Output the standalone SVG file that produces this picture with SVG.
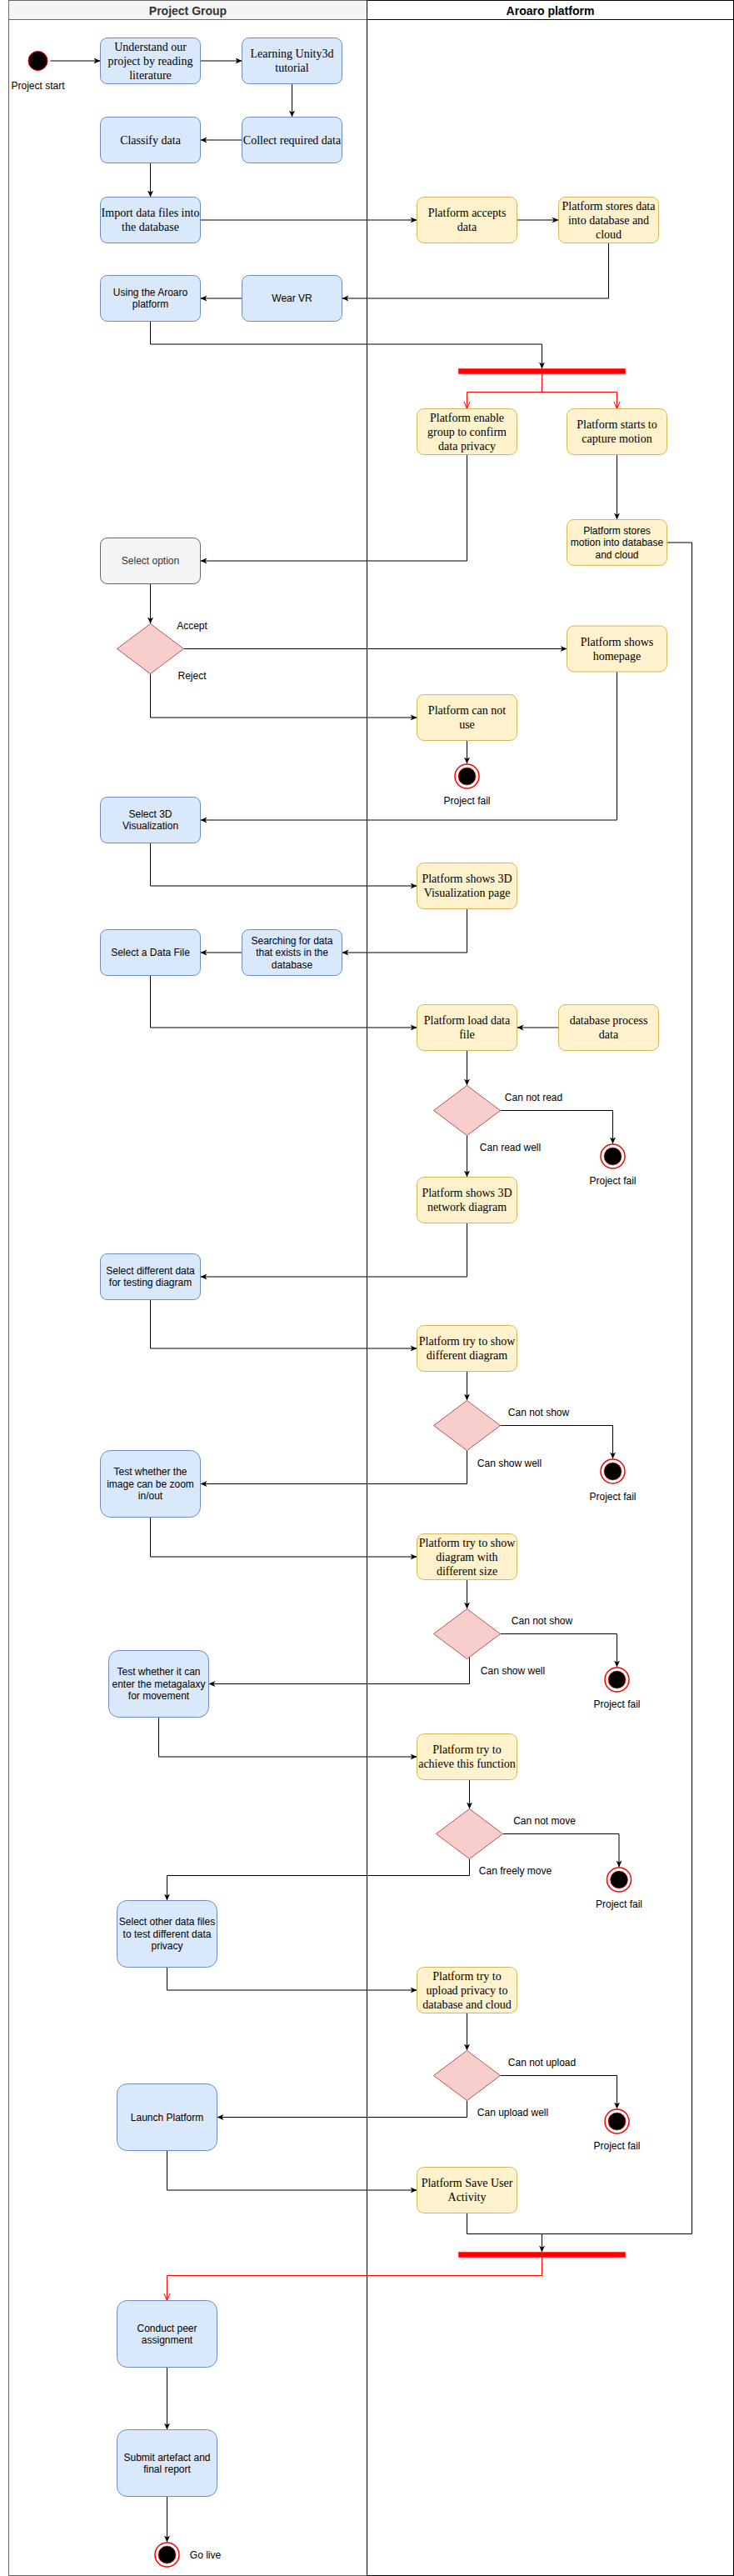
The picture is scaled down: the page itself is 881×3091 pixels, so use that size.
<svg xmlns="http://www.w3.org/2000/svg" width="881" height="3091" viewBox="0 0 881 3091">
<style>
.bl{fill:#dae8fc;stroke:#6c8ebf;stroke-width:1}
.ye{fill:#fff2cc;stroke:#d6b656;stroke-width:1}
.gr{fill:#f5f5f5;stroke:#666666;stroke-width:1}
.dm{fill:#f8cecc;stroke:#b85450;stroke-width:1}
.bar{fill:#ff0000;stroke:#ff0000;stroke-width:0.5}
.e{fill:none;stroke:#000000;stroke-width:1;marker-end:url(#arr)}
.en{fill:none;stroke:#000000;stroke-width:1}
.re{fill:none;stroke:#ff0000;stroke-width:1}
.ser{font-family:"Liberation Serif","Times New Roman",serif;font-size:14px;fill:#000;text-anchor:middle}
.san{font-family:"Liberation Sans",Arial,Helvetica,sans-serif;font-size:12px;fill:#000;text-anchor:middle}
.lab{font-family:"Liberation Sans",Arial,Helvetica,sans-serif;font-size:12px;fill:#000;text-anchor:middle}
.hd{font-family:"Liberation Sans",Arial,Helvetica,sans-serif;font-size:14px;font-weight:bold;text-anchor:middle}
.eo{fill:#ffffff;stroke:#ff0000;stroke-width:1.5}
.ei{fill:#000000;stroke:#ff0000;stroke-width:0.6}
</style>
<defs>
<marker id="arr" markerUnits="userSpaceOnUse" markerWidth="9" markerHeight="8" viewBox="0 0 9 8" refX="8" refY="4" orient="auto"><path d="M8,4 L0,0.5 L2.2,4 L0,7.5 Z" fill="#000"/></marker>
<marker id="open" markerUnits="userSpaceOnUse" markerWidth="10" markerHeight="10" viewBox="0 0 10 10" refX="9" refY="5" orient="auto"><path d="M0,1.2 L9,5 L0,8.8" fill="none" stroke="#ff0000" stroke-width="1"/></marker>
</defs>
<g transform="translate(0.5,0.5)">
<g id="pool">
<rect x="10" y="0" width="430" height="3090" fill="#ffffff" stroke="#666666"/>
<rect x="10" y="0" width="430" height="23" fill="#f5f5f5" stroke="#666666"/>
<text class="hd" x="225" y="17" fill="#333333">Project Group</text>
<rect x="440" y="0" width="440" height="3090" fill="none" stroke="#000000"/>
<line x1="440" y1="23" x2="880" y2="23" stroke="#000000"/>
<text class="hd" x="660" y="17" fill="#000000">Aroaro platform</text>
</g>
<g id="connectors">
<path class="e" d="M60,72.5 H120"/>
<path class="e" d="M240,72.5 H290"/>
<path class="e" d="M350,100 V140"/>
<path class="e" d="M290,167.5 H240"/>
<path class="e" d="M180,195 V236"/>
<path class="e" d="M240,263.5 H500"/>
<path class="e" d="M620,263.5 H670"/>
<path class="e" d="M730,291 V357.5 H410"/>
<path class="e" d="M290,357.5 H240"/>
<path class="e" d="M180,385 V412.5 H650 V442"/>
<path class="re" d="M650,448 V470 H560 V490" marker-end="url(#open)"/>
<path class="re" d="M650,470 H740 V490" marker-end="url(#open)"/>
<path class="e" d="M560,545 V672.5 H240"/>
<path class="e" d="M740,545 V623"/>
<path class="e" d="M180,700 V748"/>
<path class="e" d="M220,778 H680"/>
<path class="e" d="M180,808 V860.5 H500"/>
<path class="e" d="M560,888 V916"/>
<path class="e" d="M740,805.5 V983.5 H240"/>
<path class="e" d="M180,1011 V1062.5 H500"/>
<path class="e" d="M560,1090 V1142.5 H410"/>
<path class="e" d="M290,1142.5 H240"/>
<path class="e" d="M180,1170 V1232.5 H500"/>
<path class="e" d="M670,1232.5 H620"/>
<path class="e" d="M560,1260 V1302"/>
<path class="e" d="M600,1332 H735 V1372"/>
<path class="e" d="M560,1362 V1412"/>
<path class="e" d="M560,1467 V1531.5 H240"/>
<path class="e" d="M180,1559 V1617.5 H500"/>
<path class="e" d="M560,1645 V1680"/>
<path class="e" d="M600,1710 H735 V1750"/>
<path class="e" d="M560,1740 V1780 H240"/>
<path class="e" d="M180,1820 V1867.5 H500"/>
<path class="e" d="M560,1895 V1930"/>
<path class="e" d="M600,1960 H740 V2000"/>
<path class="e" d="M563,1987 V2020 H250"/>
<path class="e" d="M190,2060 V2107.5 H500"/>
<path class="e" d="M563,2135 V2170"/>
<path class="e" d="M603,2200 H742.5 V2240"/>
<path class="e" d="M563,2230 V2250 H200 V2280"/>
<path class="e" d="M200,2360 V2387.5 H500"/>
<path class="e" d="M560,2415 V2460"/>
<path class="e" d="M600,2490 H740 V2530"/>
<path class="e" d="M560,2520 V2540 H260"/>
<path class="e" d="M200,2580 V2627.5 H500"/>
<path class="e" d="M560,2655 V2680 H650 V2702"/>
<path class="en" d="M800,650.5 H830 V2680 H650"/>
<path class="re" d="M650,2708 V2730 H200 V2760" marker-end="url(#open)"/>
<path class="e" d="M200,2840 V2915"/>
<path class="e" d="M200,2995 V3050"/>
</g>
<g id="start"><circle cx="45" cy="72.5" r="11.5" fill="#000000" stroke="#ff0000"/><text class="lab" x="45" y="106.5">Project start</text></g>
<g id="n_understand"><rect class="bl" x="120" y="45" width="120" height="55" rx="8.25"/><text class="ser" x="180"><tspan x="180" y="60.4">Understand our</tspan><tspan x="180" y="77.2">project by reading</tspan><tspan x="180" y="94">literature</tspan></text></g>
<g id="n_learning"><rect class="bl" x="290" y="45" width="120" height="55" rx="8.25"/><text class="ser"><tspan x="350" y="68.8">Learning Unity3d</tspan><tspan x="350" y="85.6">tutorial</tspan></text></g>
<g id="n_collect"><rect class="bl" x="290" y="140" width="120" height="55" rx="8.25"/><text class="ser" x="350" y="172.2">Collect required data</text></g>
<g id="n_classify"><rect class="bl" x="120" y="140" width="120" height="55" rx="8.25"/><text class="ser" x="180" y="172.2">Classify data</text></g>
<g id="n_import"><rect class="bl" x="120" y="236" width="120" height="55" rx="8.25"/><text class="ser"><tspan x="180" y="259.8">Import data files into</tspan><tspan x="180" y="276.6">the database</tspan></text></g>
<g id="n_accepts"><rect class="ye" x="500" y="236" width="120" height="55" rx="8.25"/><text class="ser"><tspan x="560" y="259.8">Platform accepts</tspan><tspan x="560" y="276.6">data</tspan></text></g>
<g id="n_stores"><rect class="ye" x="670" y="236" width="120" height="55" rx="8.25"/><text class="ser"><tspan x="730" y="251.4">Platform stores data</tspan><tspan x="730" y="268.2">into database and</tspan><tspan x="730" y="285">cloud</tspan></text></g>
<g id="n_using"><rect class="bl" x="120" y="330" width="120" height="55" rx="8.25"/><text class="san"><tspan x="180" y="354.5">Using the Aroaro</tspan><tspan x="180" y="368.9">platform</tspan></text></g>
<g id="n_wearvr"><rect class="bl" x="290" y="330" width="120" height="55" rx="8.25"/><text class="san" x="350" y="361.7">Wear VR</text></g>
<g id="bar_fork"><rect class="bar" x="550" y="442" width="200" height="6"/></g>
<g id="n_enable"><rect class="ye" x="500" y="490" width="120" height="55" rx="8.25"/><text class="ser"><tspan x="560" y="505.4">Platform enable</tspan><tspan x="560" y="522.2">group to confirm</tspan><tspan x="560" y="539">data privacy</tspan></text></g>
<g id="n_capture"><rect class="ye" x="680" y="490" width="120" height="55" rx="8.25"/><text class="ser"><tspan x="740" y="513.8">Platform starts to</tspan><tspan x="740" y="530.6">capture motion</tspan></text></g>
<g id="n_storemotion"><rect class="ye" x="680" y="623" width="120" height="55" rx="8.25"/><text class="san"><tspan x="740" y="640.3">Platform stores</tspan><tspan x="740" y="654.7">motion into database</tspan><tspan x="740" y="669.1">and cloud</tspan></text></g>
<g id="n_selectopt"><rect class="gr" x="120" y="645" width="120" height="55" rx="8.25"/><text class="san" x="180" y="676.7" fill="#333333" style="fill:#333333">Select option</text></g>
<g id="d_option"><path class="dm" d="M180,748 L220,778 L180,808 L140,778 Z"/><text class="lab" x="230" y="754.5">Accept</text><text class="lab" x="230" y="814.2">Reject</text></g>
<g id="n_homepage"><rect class="ye" x="680" y="750.5" width="120" height="55" rx="8.25"/><text class="ser"><tspan x="740" y="774.3">Platform shows</tspan><tspan x="740" y="791.1">homepage</tspan></text></g>
<g id="n_cannotuse"><rect class="ye" x="500" y="833" width="120" height="55" rx="8.25"/><text class="ser"><tspan x="560" y="856.8">Platform can not</tspan><tspan x="560" y="873.6">use</tspan></text></g>
<g id="end1"><circle class="eo" cx="560" cy="931" r="14.5"/><circle class="ei" cx="560" cy="931" r="10.5"/><text class="lab" x="560" y="964.2">Project fail</text></g>
<g id="n_sel3d"><rect class="bl" x="120" y="956" width="120" height="55" rx="8.25"/><text class="san"><tspan x="180" y="980.5">Select 3D</tspan><tspan x="180" y="994.9">Visualization</tspan></text></g>
<g id="n_vis"><rect class="ye" x="500" y="1035" width="120" height="55" rx="8.25"/><text class="ser"><tspan x="560" y="1058.8">Platform shows 3D</tspan><tspan x="560" y="1075.6">Visualization page</tspan></text></g>
<g id="n_search"><rect class="bl" x="290" y="1115" width="120" height="55" rx="8.25"/><text class="san"><tspan x="350" y="1132.3">Searching for data</tspan><tspan x="350" y="1146.7">that exists in the</tspan><tspan x="350" y="1161.1">database</tspan></text></g>
<g id="n_selfile"><rect class="bl" x="120" y="1115" width="120" height="55" rx="8.25"/><text class="san" x="180" y="1146.7">Select a Data File</text></g>
<g id="n_load"><rect class="ye" x="500" y="1205" width="120" height="55" rx="8.25"/><text class="ser"><tspan x="560" y="1228.8">Platform load data</tspan><tspan x="560" y="1245.6">file</tspan></text></g>
<g id="n_dbproc"><rect class="ye" x="670" y="1205" width="120" height="55" rx="8.25"/><text class="ser"><tspan x="730" y="1228.8">database process</tspan><tspan x="730" y="1245.6">data</tspan></text></g>
<g id="d_read"><path class="dm" d="M560,1302 L600,1332 L560,1362 L520,1332 Z"/><text class="lab" x="640" y="1320.9">Can not read</text><text class="lab" x="612" y="1380.9">Can read well</text></g>
<g id="end2"><circle class="eo" cx="735" cy="1387" r="14.5"/><circle class="ei" cx="735" cy="1387" r="10.5"/><text class="lab" x="735" y="1420.9">Project fail</text></g>
<g id="n_network"><rect class="ye" x="500" y="1412" width="120" height="55" rx="8.25"/><text class="ser"><tspan x="560" y="1435.8">Platform shows 3D</tspan><tspan x="560" y="1452.6">network diagram</tspan></text></g>
<g id="n_seldiff"><rect class="bl" x="120" y="1504" width="120" height="55" rx="8.25"/><text class="san"><tspan x="180" y="1528.5">Select different data</tspan><tspan x="180" y="1542.9">for testing diagram</tspan></text></g>
<g id="n_trydiff"><rect class="ye" x="500" y="1590" width="120" height="55" rx="8.25"/><text class="ser"><tspan x="560" y="1613.8">Platform try to show</tspan><tspan x="560" y="1630.6">different diagram</tspan></text></g>
<g id="d_show1"><path class="dm" d="M560,1680 L600,1710 L560,1740 L520,1710 Z"/><text class="lab" x="646" y="1698.9">Can not show</text><text class="lab" x="611" y="1759.2">Can show well</text></g>
<g id="end3"><circle class="eo" cx="735" cy="1765" r="14.5"/><circle class="ei" cx="735" cy="1765" r="10.5"/><text class="lab" x="735" y="1799.2">Project fail</text></g>
<g id="n_zoom"><rect class="bl" x="120" y="1740" width="120" height="80" rx="12"/><text class="san"><tspan x="180" y="1769.8">Test whether the</tspan><tspan x="180" y="1784.2">image can be zoom</tspan><tspan x="180" y="1798.6">in/out</tspan></text></g>
<g id="n_trysize"><rect class="ye" x="500" y="1840" width="120" height="55" rx="8.25"/><text class="ser"><tspan x="560" y="1855.4">Platform try to show</tspan><tspan x="560" y="1872.2">diagram with</tspan><tspan x="560" y="1889">different size</tspan></text></g>
<g id="d_show2"><path class="dm" d="M560,1930 L600,1960 L560,1990 L520,1960 Z"/><text class="lab" x="650" y="1948.9">Can not show</text><text class="lab" x="615" y="2008.9">Can show well</text></g>
<g id="end4"><circle class="eo" cx="740" cy="2015" r="14.5"/><circle class="ei" cx="740" cy="2015" r="10.5"/><text class="lab" x="740" y="2048.9">Project fail</text></g>
<g id="n_meta"><rect class="bl" x="130" y="1980" width="120" height="80" rx="12"/><text class="san"><tspan x="190" y="2009.8">Test whether it can</tspan><tspan x="190" y="2024.2">enter the metagalaxy</tspan><tspan x="190" y="2038.6">for movement</tspan></text></g>
<g id="n_achieve"><rect class="ye" x="500" y="2080" width="120" height="55" rx="8.25"/><text class="ser"><tspan x="560" y="2103.8">Platform try to</tspan><tspan x="560" y="2120.6">achieve this function</tspan></text></g>
<g id="d_move"><path class="dm" d="M563,2170 L603,2200 L563,2230 L523,2200 Z"/><text class="lab" x="653" y="2188.9">Can not move</text><text class="lab" x="618" y="2248.9">Can freely move</text></g>
<g id="end5"><circle class="eo" cx="742.5" cy="2255" r="14.5"/><circle class="ei" cx="742.5" cy="2255" r="10.5"/><text class="lab" x="742.5" y="2288.9">Project fail</text></g>
<g id="n_selother"><rect class="bl" x="140" y="2280" width="120" height="80" rx="12"/><text class="san"><tspan x="200" y="2309.8">Select other data files</tspan><tspan x="200" y="2324.2">to test different data</tspan><tspan x="200" y="2338.6">privacy</tspan></text></g>
<g id="n_upload"><rect class="ye" x="500" y="2360" width="120" height="55" rx="8.25"/><text class="ser"><tspan x="560" y="2375.4">Platform try to</tspan><tspan x="560" y="2392.2">upload privacy to</tspan><tspan x="560" y="2409">database and cloud</tspan></text></g>
<g id="d_upload"><path class="dm" d="M560,2460 L600,2490 L560,2520 L520,2490 Z"/><text class="lab" x="650" y="2478.9">Can not upload</text><text class="lab" x="615" y="2538.5">Can upload well</text></g>
<g id="end6"><circle class="eo" cx="740" cy="2545" r="14.5"/><circle class="ei" cx="740" cy="2545" r="10.5"/><text class="lab" x="740" y="2578.9">Project fail</text></g>
<g id="n_launch"><rect class="bl" x="140" y="2500" width="120" height="80" rx="12"/><text class="san" x="200" y="2544.2">Launch Platform</text></g>
<g id="n_save"><rect class="ye" x="500" y="2600" width="120" height="55" rx="8.25"/><text class="ser"><tspan x="560" y="2623.8">Platform Save User</tspan><tspan x="560" y="2640.6">Activity</tspan></text></g>
<g id="bar_join"><rect class="bar" x="550" y="2702" width="200" height="6"/></g>
<g id="n_peer"><rect class="bl" x="140" y="2760" width="120" height="80" rx="12"/><text class="san"><tspan x="200" y="2797">Conduct peer</tspan><tspan x="200" y="2811.4">assignment</tspan></text></g>
<g id="n_submit"><rect class="bl" x="140" y="2915" width="120" height="80" rx="12"/><text class="san"><tspan x="200" y="2952">Submit artefact and</tspan><tspan x="200" y="2966.4">final report</tspan></text></g>
<g id="end_live"><circle class="eo" cx="200" cy="3065" r="14.5"/><circle class="ei" cx="200" cy="3065" r="10.5"/><text class="lab" x="246" y="3069.2">Go live</text></g>
</g>
</svg>
